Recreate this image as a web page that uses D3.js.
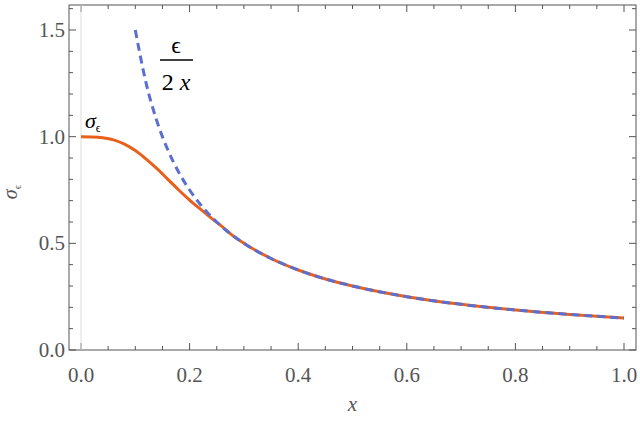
<!DOCTYPE html>
<html><head><meta charset="utf-8">
<script src="https://cdn.jsdelivr.net/npm/d3@7"></script>
<style>body{margin:0;background:#fff} svg text{font-family:"Liberation Serif","DejaVu Serif","Times New Roman",serif}</style>
</head><body><svg id="c" width="640" height="422" font-family="Liberation Serif, DejaVu Serif, serif"></svg>
<script>
const sigmaX = [0,0.02,0.04,0.06,0.08,0.1,0.12,0.14,0.16,0.18,0.2,0.22,0.24,0.26,0.28,0.3,0.35,0.4,0.45,0.5,0.6,0.7,0.8,0.9,1.0];
const sigmaY = [1.0,0.999,0.995,0.985,0.965,0.935,0.895,0.85,0.8,0.75,0.703,0.66,0.618,0.578,0.535,0.5,0.429,0.375,0.333,0.3,0.25,0.214,0.1875,0.1667,0.15];
const asymX = [0.1,0.12,0.14,0.16,0.18,0.2,0.22,0.25,0.3,0.35,0.4,0.45,0.5,0.6,0.7,0.8,0.9,1.0];
const asymY = [1.5,1.25,1.071,0.9375,0.833,0.75,0.682,0.6,0.5,0.429,0.375,0.333,0.3,0.25,0.214,0.1875,0.1667,0.15];
const xTicks = [0,0.2,0.4,0.6,0.8,1.0];
const yTicks = [0,0.5,1.0,1.5];

const svg = d3.select("#c");
const L=69,R=636,T=5,B=350;
const x = d3.scaleLinear().domain([0,1]).range([81,624]);
const y = d3.scaleLinear().domain([0,1.5]).range([350,30]);
const gray="#555", FF="Liberation Serif, DejaVu Serif, serif";
const xm = d3.range(0,1.0001,0.05), ym = d3.range(0,1.61,0.1);
xm.forEach(v=>{const big=Math.abs(v*5-Math.round(v*5))<1e-6; const l=big?7:4;
  svg.append("line").attr("x1",x(v)).attr("x2",x(v)).attr("y1",B).attr("y2",B-l).attr("stroke",gray);
  svg.append("line").attr("x1",x(v)).attr("x2",x(v)).attr("y1",T).attr("y2",T+l).attr("stroke",gray);});
ym.forEach(v=>{const big=Math.abs(v*2-Math.round(v*2))<1e-6; const l=big?7:4;
  svg.append("line").attr("x1",L).attr("x2",L+l).attr("y1",y(v)).attr("y2",y(v)).attr("stroke",gray);
  svg.append("line").attr("x1",R).attr("x2",R-l).attr("y1",y(v)).attr("y2",y(v)).attr("stroke",gray);});
svg.append("rect").attr("x",L).attr("y",T).attr("width",R-L).attr("height",B-T).attr("fill","none").attr("stroke",gray);
svg.append("line").attr("x1",x(0)).attr("x2",x(0)).attr("y1",T).attr("y2",B).attr("stroke","#ddd");
xTicks.forEach(v=>svg.append("text").attr("font-family",FF).attr("x",x(v)).attr("y",382).attr("text-anchor","middle").attr("font-size",21).attr("fill",gray).text(v.toFixed(1)));
yTicks.forEach(v=>svg.append("text").attr("font-family",FF).attr("x",L-4).attr("y",y(v)+7).attr("text-anchor","end").attr("font-size",21).attr("fill",gray).text(v.toFixed(1)));
svg.append("text").attr("font-family",FF).attr("x",x(0.5)).attr("y",411).attr("text-anchor","middle").attr("font-size",21).attr("font-style","italic").attr("fill",gray).text("x");
svg.append("text").attr("font-family",FF).attr("transform","translate(17,192) rotate(-90)").attr("text-anchor","middle").attr("font-size",20).attr("fill",gray)
  .html('<tspan font-style="italic">σ</tspan><tspan font-size="11" dy="4">ϵ</tspan>');
const line=d3.line().x(d=>x(d[0])).y(d=>y(d[1])).curve(d3.curveMonotoneX);
svg.append("path").attr("d",line(sigmaX.map((v,i)=>[v,sigmaY[i]]))).attr("fill","none").attr("stroke","#e8601c").attr("stroke-width",3);
svg.append("path").attr("d",line(asymX.map((v,i)=>[v,asymY[i]]))).attr("fill","none").attr("stroke","#5b6fd0").attr("stroke-width",3).attr("stroke-dasharray","8,5");
svg.append("text").attr("font-family",FF).attr("x",85).attr("y",128).attr("font-size",22).attr("fill","#000")
  .html('<tspan font-style="italic">σ</tspan><tspan font-size="12" dy="4">ϵ</tspan>');
svg.append("text").attr("font-family",FF).attr("x",176).attr("y",53).attr("text-anchor","middle").attr("font-size",24).text("ϵ");
svg.append("line").attr("x1",160).attr("x2",193).attr("y1",60).attr("y2",60).attr("stroke","#000").attr("stroke-width",1.5);
svg.append("text").attr("font-family",FF).attr("x",176).attr("y",90).attr("text-anchor","middle").attr("font-size",24).html('2 <tspan font-style="italic">x</tspan>');
</script></body></html>
